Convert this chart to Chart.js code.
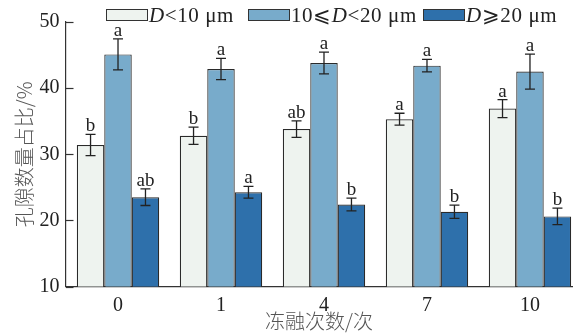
<!DOCTYPE html>
<html>
<head>
<meta charset="utf-8">
<script src="https://cdn.jsdelivr.net/npm/chart.js@4"></script>
<style>
  body { margin: 0; background: #fff; }
  #wrap { position: relative; width: 577px; height: 336px; }
  .leg { position: absolute; top: 3px; height: 24px; display: flex; align-items: center;
         font-family: 'Liberation Serif', serif; font-size: 21px; letter-spacing: 0.6px;
         color: #222; white-space: nowrap; }
  .leg .box { width: 40px; height: 10px; border: 1px solid #333; margin-right: 1px; }
</style>
</head>
<body>
<div id="wrap">
  <canvas id="chart" width="577" height="336"></canvas>
  <div class="leg" style="left:106px"><span class="box" style="background:#eef3ef"></span><i>D</i>&lt;10 μm</div>
  <div class="leg" style="left:248px"><span class="box" style="background:#78abcb"></span>10⩽<i>D</i>&lt;20 μm</div>
  <div class="leg" style="left:423px"><span class="box" style="background:#2e70ab"></span><i>D</i>⩾20 μm</div>
</div>
<script>
// 冻融次数
const cycles = ['0', '1', '4', '7', '10'];

// 孔隙数量占比 (%)
const smallPores = [31.4, 32.8, 33.8, 35.3, 36.9];
const smallErr = [1.6, 1.3, 1.25, 0.9, 1.35];
const smallSig = ['b', 'b', 'ab', 'a', 'a'];

const midPores = [45.1, 42.9, 43.8, 43.4, 42.5];
const midErr = [2.35, 1.6, 1.65, 0.95, 2.65];
const midSig = ['a', 'a', 'a', 'a', 'a'];

const largePores = [23.5, 24.25, 22.4, 21.3, 20.6];
const largeErr = [1.25, 0.9, 0.95, 1.0, 1.25];
const largeSig = ['ab', 'a', 'b', 'b', 'b'];

const yTicks = [10, 20, 30, 40, 50];

const errors = [smallErr, midErr, largeErr];
const letters = [smallSig, midSig, largeSig];

function toPoints(arr) {
    return arr.map((v, i) => ({ x: i, y: v }));
}

// barras de error, letras y marcas hacia dentro
const errorBarPlugin = {
    id: 'errorBars',
    afterDatasetsDraw(chart) {
        const ctx = chart.ctx;
        const yScale = chart.scales.y;
        ctx.save();
        ctx.strokeStyle = '#222';
        ctx.lineWidth = 1.3;
        ctx.fillStyle = '#222';
        ctx.font = '19px "Liberation Serif"';
        ctx.textAlign = 'center';
        ctx.textBaseline = 'alphabetic';
        chart.data.datasets.forEach((ds, i) => {
            const meta = chart.getDatasetMeta(i);
            meta.data.forEach((bar, j) => {
                const v = ds.data[j].y;
                const e = errors[i][j];
                const top = yScale.getPixelForValue(v + e);
                const bot = yScale.getPixelForValue(v - e);
                ctx.beginPath();
                ctx.moveTo(bar.x, top);
                ctx.lineTo(bar.x, bot);
                ctx.moveTo(bar.x - 5, top);
                ctx.lineTo(bar.x + 5, top);
                ctx.moveTo(bar.x - 5, bot);
                ctx.lineTo(bar.x + 5, bot);
                ctx.stroke();
                ctx.fillText(letters[i][j], bar.x, top - 3);
            });
        });
        // marcas del eje y hacia dentro
        const left = chart.chartArea.left;
        ctx.lineWidth = 1.2;
        ctx.strokeStyle = '#333';
        yTicks.forEach(t => {
            const y = Math.round(yScale.getPixelForValue(t)) + 0.5;
            ctx.beginPath();
            ctx.moveTo(left, y);
            ctx.lineTo(left + 7.5, y);
            ctx.stroke();
        });
        ctx.restore();
    }
};

Chart.defaults.font.family = '"Liberation Serif", serif';
Chart.defaults.color = '#222';

new Chart(document.getElementById('chart').getContext('2d'), {
    type: 'bar',
    data: {
        datasets: [
            { label: 'D<10 μm', data: toPoints(smallPores), backgroundColor: '#eef3ef' },
            { label: '10⩽D<20 μm', data: toPoints(midPores), backgroundColor: '#78abcb' },
            { label: 'D⩾20 μm', data: toPoints(largePores), backgroundColor: '#2e70ab' }
        ]
    },
    options: {
        responsive: false,
        animation: false,
        layout: { padding: { top: 22, right: 5, left: 0, bottom: 0 } },
        datasets: {
            bar: {
                borderColor: '#2a2a2a',
                borderWidth: 1.2,
                categoryPercentage: 0.8,
                barPercentage: 1
            }
        },
        plugins: {
            legend: { display: false },
            tooltip: { enabled: false }
        },
        scales: {
            x: {
                type: 'linear',
                offset: false,
                min: -0.505,
                max: 4.408,
                afterBuildTicks: axis => { axis.ticks = cycles.map((c, i) => ({ value: i })); },
                afterFit: axis => { axis.height = 49.5; },
                grid: { display: false, drawTicks: false, offset: false },
                border: { display: true, color: '#333', width: 1.2 },
                ticks: {
                    padding: 7,
                    font: { size: 20 },
                    callback: v => cycles[v]
                },
                title: {
                    display: true,
                    text: '冻融次数/次',
                    color: '#555',
                    font: { family: '"Noto Sans CJK SC"', size: 20, weight: 300 },
                    padding: { top: 0, bottom: 3 }
                }
            },
            y: {
                min: 10,
                max: 50,
                afterFit: axis => { axis.width = 66; },
                grid: { display: false, drawTicks: false },
                border: { display: true, color: '#333', width: 1.2 },
                ticks: {
                    stepSize: 10,
                    padding: 6.5,
                    font: { size: 20 }
                },
                title: {
                    display: true,
                    text: '孔隙数量占比/%',
                    color: '#555',
                    font: { family: '"Noto Sans CJK SC"', size: 20, weight: 300 },
                    padding: { top: 12, bottom: 0 }
                }
            }
        }
    },
    plugins: [errorBarPlugin]
});
</script>
</body>
</html>
